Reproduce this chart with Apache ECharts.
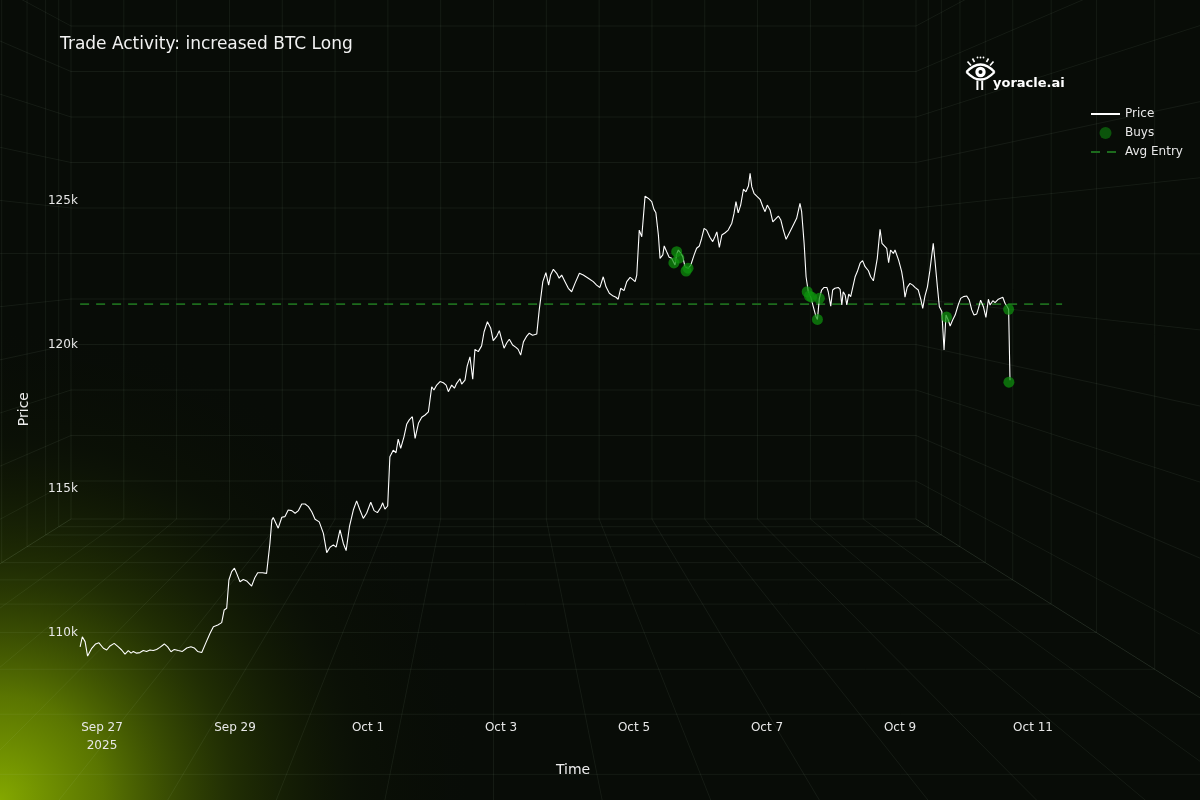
<!DOCTYPE html>
<html>
<head>
<meta charset="utf-8">
<script src="https://cdn.jsdelivr.net/npm/echarts@6/dist/echarts.min.js"></script>
<style>
html,body{margin:0;padding:0;background:#080c07;}
#chart{width:1200px;height:800px;}
</style>
</head>
<body>
<div id="chart"></div>
<script>
// ---------- DATA ----------
const START_UTC = Date.UTC(2025, 8, 27); // Sep 27 2025 00:00, hour offsets below are relative to it
const priceHours = [
-7.9,-7.1,-6.1,-5.2,-3.7,-2.3,-1.1,0.5,1.7,2.9,4.4,5.9,7.1,8.3,9.5,10.5,11.3,12.5,13.7,14.9,
16.1,17.3,18.5,19.7,20.9,22.5,23.7,24.9,26.1,27.5,29.0,30.6,32.1,33.3,34.5,36.0,37.4,39.0,40.2,41.8,
43.2,44.1,45.0,45.8,46.8,47.8,48.6,49.8,51.0,52.2,54.0,55.2,56.2,57.9,59.4,60.0,60.6,61.3,61.8,63.6,
64.9,66.0,67.2,68.5,69.7,70.9,72.1,73.3,74.5,75.7,76.9,78.4,79.9,81.1,82.3,83.5,84.5,85.9,87.1,88.1,
89.3,90.7,91.9,93.1,94.3,95.5,97.0,98.2,99.4,100.6,101.3,102.1,103.1,103.9,105.1,106.1,106.9,107.8,109.0,110.0,
110.9,112.0,113.0,114.2,115.4,116.6,117.8,119.0,119.8,120.8,122.0,123.2,124.2,125.0,126.2,127.2,128.0,129.2,129.8,131.0,
131.8,132.8,133.8,134.6,135.8,137.0,137.9,139.1,140.3,141.2,142.5,143.4,144.3,145.1,146.1,147.0,148.2,149.4,150.2,151.1,
152.1,153.3,154.2,155.4,156.9,157.8,159.1,160.2,161.2,161.9,162.9,164.1,165.0,165.9,167.1,168.3,169.5,170.7,172.3,173.7,
175.5,177.3,178.5,179.7,180.9,181.9,183.1,184.5,185.5,186.3,187.2,188.4,189.4,190.6,191.5,192.4,193.0,193.9,194.8,196.0,
197.2,198.4,199.2,199.9,200.8,201.4,202.4,202.9,203.8,204.7,205.6,206.8,207.4,208.0,208.9,209.6,210.4,211.6,212.5,213.7,
214.6,215.6,216.4,217.3,218.2,219.4,220.4,221.2,221.9,222.8,223.7,224.9,226.0,227.3,228.1,228.8,229.6,230.5,231.5,232.4,
233.3,233.9,234.5,235.3,236.3,237.5,238.5,239.3,240.1,241.1,242.1,243.3,244.1,245.0,245.9,246.9,248.1,249.5,250.7,251.9,
252.5,253.4,254.1,254.9,255.8,256.7,257.7,258.2,258.9,259.7,260.6,261.6,262.1,263.0,263.7,264.5,265.7,266.4,267.0,267.5,
268.2,268.8,269.5,270.2,270.9,271.8,272.6,273.6,274.5,275.4,276.6,277.4,278.4,279.0,279.8,280.8,281.5,282.2,283.2,283.9,
284.6,285.6,286.2,286.8,287.5,288.6,289.2,289.8,290.6,291.6,292.6,293.4,294.6,295.5,296.2,297.0,297.9,298.8,300.0,300.6,
301.5,302.2,303.1,303.9,304.6,305.4,306.1,307.0,307.9,309.0,309.9,310.9,312.1,313.0,313.9,314.7,315.7,316.3,317.1,318.1,
319.0,319.9,320.5,321.5,322.3,323.5,325.1,325.9,326.7,327.2,327.7
];
const priceValues = [
109520,109870,109700,109200,109470,109620,109660,109470,109410,109550,109640,109520,109410,109270,109390,109300,109360,109300,109320,109390,
109360,109410,109390,109430,109500,109620,109520,109350,109430,109390,109360,109480,109520,109480,109360,109320,109640,109990,110220,110280,
110360,110800,110860,111840,112130,112250,112070,111780,111860,111810,111630,111930,112090,112090,112070,112050,113110,113920,114010,113640,
114020,114040,114270,114250,114160,114250,114480,114480,114390,114210,113950,113860,113460,112790,112980,113060,112980,113580,113110,112860,
113690,114270,114590,114270,113980,114160,114540,114250,114180,114360,114520,114300,114410,116120,116350,116260,116730,116410,116820,117260,
117400,117510,116760,117280,117490,117570,117680,118550,118440,118610,118730,118690,118610,118380,118610,118500,118670,118830,118640,118780,
119270,119590,118810,119850,119770,119970,120460,120810,120580,120150,120310,120500,120170,119890,120080,120200,120000,119920,119850,119650,
120110,120310,120410,120340,120380,121220,122200,122510,122080,122430,122630,122490,122320,122430,122200,121970,121850,122140,122490,122430,
122320,122200,122080,122000,122370,122020,121800,121700,121660,121590,121970,121890,122200,122350,122280,122200,122430,123990,123760,125170,
125090,124980,124710,124590,123820,123010,123130,123440,123240,123050,123010,122780,123160,123300,123180,123070,122720,122660,122780,123130,
123360,123440,123700,124050,123990,123740,123590,123760,123930,123390,123820,123900,123990,124230,124570,124980,124590,124860,125410,125320,
125520,125960,125500,125270,125170,125060,124800,124630,124860,124690,124280,124400,124480,124340,123990,123670,123900,124170,124400,124920,
124630,123530,122370,121850,121660,121330,120980,120890,121620,121910,122000,122000,121850,121350,121910,121970,122000,121930,121390,121850,
121740,121390,121770,121680,121620,122370,122550,122840,122930,122720,122580,122370,122230,122200,123010,124020,123530,123470,123360,122860,
123300,123180,123300,123270,122950,122550,122200,121660,122000,122140,122080,122000,121910,121590,121270,121700,122020,122600,123530,122950,
122020,121330,121160,119830,121040,120870,120660,120870,121040,121390,121620,121680,121700,121560,121220,121040,121080,121270,121560,121330,
120960,121590,121390,121540,121470,121590,121660,121450,121330,121240,118780
];
const buyHours  = [206.4, 207.4, 208.2, 211.5, 210.8, 254.5, 255.3, 256.1, 258.9, 258.2, 304.8, 327.2, 327.3];
const buyPrices = [122850,123240,123020,122670,122570,121850,121700,121660,121620,120890,120970,121240,118710];
const avgEntryPrice = 121420;
const avgEntryHours = [-7.9, 346.5];
const yTickLabels = [110000, 115000, 120000, 125000];
const xTickEveryHours = 48;
const seriesNames = ['Price', 'Buys', 'Avg Entry'];
const titleText = 'Trade Activity: increased BTC Long';

// ---------- BUILD ----------
const priceData = priceHours.map((h, i) => [h, priceValues[i]]);
const buyData = buyHours.map((h, i) => [h, buyPrices[i]]);
const avgData = avgEntryHours.map(h => [h, avgEntryPrice]);
const MONTHS = ['Jan','Feb','Mar','Apr','May','Jun','Jul','Aug','Sep','Oct','Nov','Dec'];

function xLabel(v) {
  const r = Math.round(v);
  if (Math.abs(v - r) > 1e-6 || r < 0 || r % xTickEveryHours !== 0) return '';
  const d = new Date(START_UTC + r * 3600000);
  let s = MONTHS[d.getUTCMonth()] + ' ' + d.getUTCDate();
  if (r === 0) s += '\n' + d.getUTCFullYear();
  return s;
}
function yLabel(v) {
  return yTickLabels.indexOf(Math.round(v)) >= 0 ? (Math.round(v) / 1000) + 'k' : '';
}

// ---------- DECORATIVE BACKGROUND (perspective room) ----------
const FONT = 'DejaVu Sans';
const deco = [];
const LINE = 'rgba(200,220,200,0.07)';
deco.push({
  type: 'rect', silent: true, z: 0,
  shape: { x: 0, y: 0, width: 1200, height: 800 },
  style: { fill: { type: 'radial', x: 0, y: 800, r: 520, global: true,
    colorStops: [
      { offset: 0, color: 'rgba(132,168,0,1)' },
      { offset: 0.2, color: 'rgba(108,140,0,0.82)' },
      { offset: 0.45, color: 'rgba(62,86,0,0.45)' },
      { offset: 0.7, color: 'rgba(25,38,0,0.15)' },
      { offset: 1, color: 'rgba(0,0,0,0)' } ] } }
});
const VX = 493.5, VY = 253, WX0 = 71, WX1 = 916, WY0 = -13, WY1 = 519;
function ln(x1, y1, x2, y2) {
  deco.push({ type: 'line', silent: true, z: 1, shape: { x1, y1, x2, y2 },
    style: { stroke: LINE, lineWidth: 1 } });
}
function out(x, y, s) { return [VX + (x - VX) * s, VY + (y - VY) * s]; }
// back wall grid
const vxs = [], hys = [];
for (let k = 0; k <= 16; k++) vxs.push(WX0 + (WX1 - WX0) * k / 16);
for (let j = 0; j <= 10; j++) hys.push(26 + 45.5 * j);
vxs.forEach(x => ln(x, WY0, x, WY1));
hys.forEach(y => ln(WX0, y, WX1, y));
ln(WX0, WY1, WX1, WY1);
// nested frames
[1.029, 1.06, 1.104, 1.164, 1.229, 1.32, 1.427, 1.565, 1.734, 1.96, 2.25].forEach(s => {
  const a = out(WX0, WY0, s), b = out(WX1, WY1, s);
  ln(a[0], a[1], b[0], a[1]); ln(a[0], b[1], b[0], b[1]);
  ln(a[0], a[1], a[0], b[1]); ln(b[0], a[1], b[0], b[1]);
});
// rays
vxs.forEach(x => { const p = out(x, WY1, 4); ln(x, WY1, p[0], p[1]); });
hys.concat([WY1]).forEach(y => {
  const l = out(WX0, y, 4), r = out(WX1, y, 4);
  ln(WX0, y, l[0], l[1]); ln(WX1, y, r[0], r[1]);
});

// ---------- LOGO ----------
const W = '#ffffff';
function seg(x1, y1, x2, y2, w) {
  return { type: 'line', silent: true, z: 10, shape: { x1, y1, x2, y2 }, style: { stroke: W, lineWidth: w || 1.6 } };
}
function dot(cx, cy, r, fill) {
  return { type: 'circle', silent: true, z: 10, shape: { cx, cy, r }, style: { fill: fill || W } };
}
const logo = [
  { type: 'bezierCurve', silent: true, z: 10, shape: { x1: 966.5, y1: 72, x2: 994.5, y2: 72, cpx1: 980.5, cpy1: 57 },
    style: { fill: 'none', stroke: W, lineWidth: 2.4 } },
  { type: 'bezierCurve', silent: true, z: 10, shape: { x1: 966.5, y1: 72, x2: 994.5, y2: 72, cpx1: 980.5, cpy1: 87 },
    style: { fill: 'none', stroke: W, lineWidth: 2.4 } },
  dot(980.5, 72, 5.2),
  { type: 'circle', silent: true, z: 11, shape: { cx: 980.5, cy: 72, r: 2 }, style: { fill: '#080c07' } },
  seg(967.5, 61.5, 971, 65.5), seg(972.5, 58.5, 974.5, 62), seg(988.5, 58.5, 986.5, 62), seg(993.5, 61.5, 990, 65.5),
  dot(977.5, 57.5, 0.9), dot(980.5, 57.5, 0.9), dot(983.5, 57.5, 0.9),
  { type: 'rect', silent: true, z: 10, shape: { x: 976.4, y: 80.5, width: 2, height: 9.5 }, style: { fill: W } },
  { type: 'rect', silent: true, z: 10, shape: { x: 981.2, y: 80.5, width: 2, height: 9.5 }, style: { fill: W } },
  { type: 'text', silent: true, z: 10, x: 993, y: 83.5,
    style: { text: 'yoracle.ai', fill: W, font: 'bold 13px "' + FONT + '"', verticalAlign: 'middle' } }
];

// ---------- CHART ----------
const chart = echarts.init(document.getElementById('chart'), null, { renderer: 'canvas' });
chart.setOption({
  animation: false,
  backgroundColor: '#080c07',
  textStyle: { fontFamily: FONT },
  title: {
    text: titleText, left: 60, top: 36, padding: 0,
    textStyle: { color: '#f2f2f2', fontSize: 17, fontWeight: 'normal', fontFamily: FONT }
  },
  legend: {
    orient: 'vertical', left: 1090, top: 108, padding: 0,
    itemWidth: 29, itemHeight: 12, itemGap: 7,
    textStyle: { color: '#e8e8e8', fontSize: 12, fontFamily: FONT },
    data: [
      { name: seriesNames[0], itemStyle: { opacity: 0 } },
      { name: seriesNames[1], icon: 'circle', itemStyle: { color: '#0d660d' } },
      { name: seriesNames[2], itemStyle: { opacity: 0 } }
    ]
  },
  graphic: { elements: deco.concat(logo) },
  grid: { left: 79.83, right: 133.75, top: 113.2, bottom: 95, containLabel: false },
  xAxis: {
    type: 'value', min: -8, max: 348, interval: 4,
    name: 'Time', nameLocation: 'middle', nameGap: 58,
    nameTextStyle: { color: '#eeeeee', fontSize: 14, fontFamily: FONT },
    axisLine: { show: false }, axisTick: { show: false }, splitLine: { show: false },
    axisLabel: { formatter: xLabel, color: '#e8e8e8', fontSize: 12, lineHeight: 18, margin: 14, fontFamily: FONT }
  },
  yAxis: {
    type: 'value', min: 107500, max: 128050, interval: 2500,
    name: 'Price', nameLocation: 'middle', nameGap: 48, nameRotate: 90,
    nameTextStyle: { color: '#eeeeee', fontSize: 14, fontFamily: FONT },
    axisLine: { show: false }, axisTick: { show: false }, splitLine: { show: false },
    axisLabel: { formatter: yLabel, color: '#e8e8e8', fontSize: 12, margin: 2, padding: [4, 0, 0, 0], fontFamily: FONT }
  },
  series: [
    {
      name: seriesNames[0], type: 'line', data: priceData, symbol: 'none', z: 5,
      lineStyle: { color: '#ffffff', width: 1.1 }, itemStyle: { color: '#ffffff' }
    },
    {
      name: seriesNames[1], type: 'scatter', data: buyData, symbol: 'circle', symbolSize: 11, z: 6,
      itemStyle: { color: 'rgba(14,145,14,0.9)' }
    },
    {
      name: seriesNames[2], type: 'line', data: avgData, symbol: 'none', z: 4,
      lineStyle: { color: '#1d6b1d', width: 1.6, type: [9, 7] }, itemStyle: { color: '#1d6b1d' }
    }
  ]
});
</script>
</body>
</html>
